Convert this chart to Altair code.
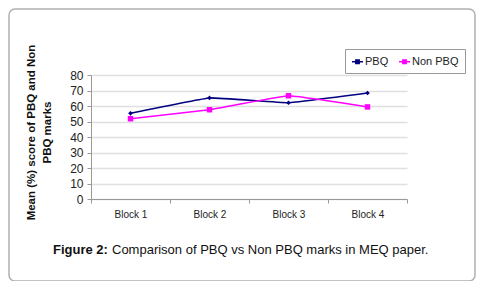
import altair as alt
import pandas as pd

blocks = ["Block 1", "Block 2", "Block 3", "Block 4"]
pbq = [55.3, 65.2, 62.1, 68.4]
non_pbq = [51.8, 57.6, 66.6, 59.4]
series_names = ["PBQ", "Non PBQ"]
series_colors = ["#000080", "#FF00FF"]
y_ticks = [0, 10, 20, 30, 40, 50, 60, 70, 80]

rows = []
for b, v in zip(blocks, pbq):
    rows.append({"block": b, "series": "PBQ", "value": v})
for b, v in zip(blocks, non_pbq):
    rows.append({"block": b, "series": "Non PBQ", "value": v})
df = pd.DataFrame(rows)

FONT = "Liberation Sans"

x_enc = alt.X("block:N", sort=blocks, title=None,
              scale=alt.Scale(paddingInner=0, paddingOuter=0),
              axis=alt.Axis(labelAngle=0, labelFontSize=10, labelColor="#222",
                            tickBand="extent", tickSize=4, tickColor="#999",
                            domainColor="#999", grid=False, labelPadding=6))
y_enc = alt.Y("value:Q", scale=alt.Scale(domain=[0, 80]),
              title=["Mean (%) score  of PBQ and Non", "PBQ marks"],
              axis=alt.Axis(values=y_ticks, labelFontSize=12, labelColor="#222",
                            tickSize=4, tickColor="#999", domainColor="#999",
                            gridColor="#e0e0e0", gridWidth=1.5,
                            titleFontSize=11.5, titleFontWeight="bold", titleColor="#111",
                            titleLineHeight=16, titleY=57,
                            titlePadding=17, labelPadding=4))
line_colors = alt.Scale(domain=series_names, range=series_colors)
pt_colors = alt.Scale(domain=series_names, range=series_colors)

lines = alt.Chart(df).mark_line(strokeWidth=1.6, interpolate="cardinal", tension=0.75).encode(
    x=x_enc, y=y_enc,
    color=alt.Color("series:N", scale=line_colors, sort=series_names,
                    legend=alt.Legend(title=None, orient="none", legendX=254, legendY=-26,
                                      direction="horizontal", labelFontSize=11,
                                      labelColor="#222", strokeColor="#999",
                                      padding=6, columnPadding=6,
                                      symbolType="M-1,0H1M-0.3,-0.3H0.3V0.3H-0.3Z",
                                      symbolSize=120, symbolStrokeWidth=1.6,
                                      labelOffset=1)),
)
pts = alt.Chart(df).mark_point(filled=True, opacity=1).encode(
    x=x_enc, y=y_enc,
    color=alt.Color("series:N", scale=pt_colors, legend=None),
    shape=alt.Shape("series:N", scale=alt.Scale(domain=series_names, range=["diamond", "square"]), legend=None),
    size=alt.Size("series:N", scale=alt.Scale(domain=series_names, range=[22, 30]), legend=None),
)

border = alt.Chart(pd.DataFrame({"a": [0]})).mark_rect(
    fill="transparent", stroke="#b0b0b0", strokeWidth=1.5, cornerRadius=6, clip=False
).encode(x=alt.value(-82), x2=alt.value(384), y=alt.value(-66), y2=alt.value(206))

cap1 = alt.Chart(pd.DataFrame({"t": ["Figure 2:"]})).mark_text(
    align="left", baseline="alphabetic", fontSize=13, fontWeight="bold", font=FONT, color="#111"
).encode(text="t:N", x=alt.value(-38), y=alt.value(179))
cap2 = alt.Chart(pd.DataFrame({"t": ["Comparison of PBQ vs Non PBQ marks in MEQ paper."]})).mark_text(
    align="left", baseline="alphabetic", fontSize=13, font=FONT, color="#111"
).encode(text="t:N", x=alt.value(21), y=alt.value(179))

chart = alt.layer(border, lines, pts, cap1, cap2).resolve_scale(
    color="independent", shape="independent", size="independent"
).resolve_legend(color="independent").properties(
    width=316, height=124,
    autosize=alt.AutoSizeParams(type="none"),
    padding={"left": 83, "top": 67, "right": 69, "bottom": 82},
).configure(font=FONT).configure_view(stroke=None)

chart.save("out.html", embed_options={"renderer": "svg", "actions": False})
